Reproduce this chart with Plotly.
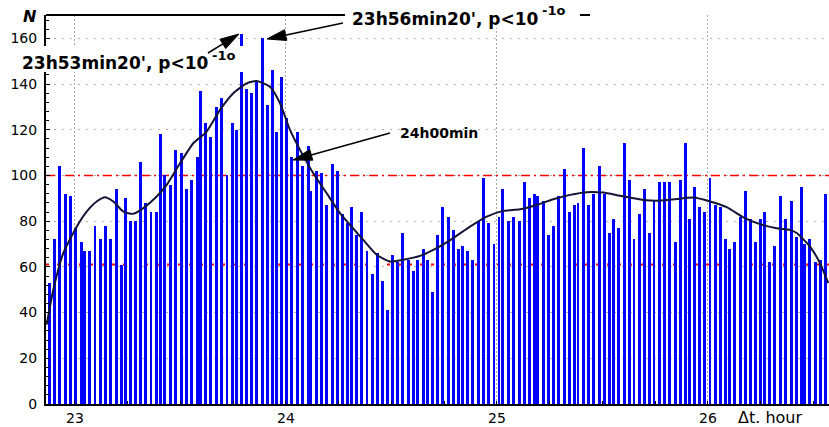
import plotly.graph_objects as go

# Bin centres (hours) and counts per bin
bin_hours = [
    22.8782, 22.9019, 22.9275, 22.9540, 22.9777, 23.0047, 23.0299, 23.0441, 23.0697, 23.0948,
    23.1199, 23.1455, 23.1706, 23.1957, 23.2194, 23.2384, 23.2607, 23.2844, 23.3095, 23.3351,
    23.3602, 23.3853, 23.4043, 23.4265, 23.4536, 23.4763, 23.5038, 23.5294, 23.5545, 23.5796,
    23.5938, 23.6194, 23.6445, 23.6697, 23.6953, 23.7204, 23.7455, 23.7645, 23.7882, 23.8137,
    23.8355, 23.8611, 23.8863, 23.9114, 23.9370, 23.9559, 23.9796, 24.0033, 24.0284, 24.0536,
    24.0791, 24.1043, 24.1171, 24.1436, 24.1692, 24.1943, 24.2194, 24.2450, 24.2701, 24.2938,
    24.3081, 24.3332, 24.3588, 24.3839, 24.4090, 24.4346, 24.4597, 24.4787, 24.5038, 24.5294,
    24.5545, 24.5796, 24.6052, 24.6256, 24.6507, 24.6697, 24.6953, 24.7171, 24.7427, 24.7678,
    24.7929, 24.8185, 24.8374, 24.8592, 24.8848, 24.9100, 24.9351, 24.9607, 24.9858, 25.0095,
    25.0284, 25.0536, 25.0791, 25.1043, 25.1280, 25.1531, 25.1787, 25.1929, 25.2194, 25.2431,
    25.2687, 25.2938, 25.3199, 25.3427, 25.3682, 25.3839, 25.4090, 25.4346, 25.4597, 25.4848,
    25.5104, 25.5355, 25.5531, 25.5782, 25.6033, 25.6289, 25.6493, 25.6744, 25.7000, 25.7251,
    25.7441, 25.7692, 25.7948, 25.8199, 25.8450, 25.8706, 25.8957, 25.9100, 25.9360, 25.9588,
    25.9844, 26.0095, 26.0346, 26.0602, 26.0853, 26.1028, 26.1265, 26.1517, 26.1768, 26.2024,
    26.2242, 26.2498, 26.2668, 26.2924, 26.3175, 26.3427, 26.3682, 26.3934, 26.4185, 26.4441,
    26.4564, 26.4834, 26.5085, 26.5341, 26.5592,
]
counts = [
    53, 72, 104, 92, 91, 77, 71, 67, 67, 78,
    72, 78, 72, 94, 61, 90, 80, 80, 106, 88,
    84, 84, 118, 100, 96, 111, 110, 94, 98, 108,
    137, 123, 117, 130, 134, 100, 123, 120, 162, 138,
    136, 141, 160, 131, 146, 119, 143, 125, 108, 119,
    104, 113, 93, 102, 101, 87, 105, 102, 83, 79,
    86, 74, 84, 67, 57, 66, 54, 41, 65, 62,
    75, 63, 58, 63, 68, 63, 49, 74, 86, 82,
    76, 68, 69, 67, 63, 80, 99, 79, 70, 82,
    94, 80, 82, 80, 97, 90, 92, 91, 89, 74,
    78, 91, 103, 84, 87, 88, 112, 87, 92, 104,
    92, 75, 81, 77, 114, 98, 72, 83, 94, 75,
    89, 97, 97, 97, 71, 98, 114, 81, 95, 86,
    84, 99, 87, 86, 72, 68, 71, 82, 93, 81,
    71, 81, 84, 62, 69, 91, 81, 89, 73, 95,
    70, 72, 62, 63, 92,
]
assert len(bin_hours) == len(counts)

# Smoothed trend
trend_hours = [
    22.8659, 22.8972, 22.9445, 23.0081, 23.0555, 23.1028, 23.1422, 23.1815, 23.2289, 23.2763,
    23.3237, 23.3872, 23.4346, 23.4976, 23.5607, 23.6242, 23.6872, 23.7502, 23.8137, 23.8611,
    23.9242, 23.9716, 24.0190, 24.0664, 24.1294, 24.1929, 24.2559, 24.3664, 24.4299, 24.4929,
    24.5559, 24.6351, 24.7142, 24.7929, 24.8720, 24.9512, 25.0299, 25.1090, 25.1882, 25.2668,
    25.3460, 25.4251, 25.5038, 25.5829, 25.6934, 25.7725, 25.8517, 25.9303, 26.0095, 26.0886,
    26.1673, 26.2464, 26.3256, 26.3886, 26.4204, 26.4834, 26.5308, 26.5701,
]
trend_values = [
    34.7, 50, 66, 77.6, 84.2, 88.6, 90.5, 88.6, 84.2, 83.2,
    85.7, 90.8, 95.9, 105.3, 114.1, 119.2, 128.7, 136, 140.3, 141.3,
    138.8, 131.6, 119.9, 111.2, 101, 92.2, 83.5, 71.8, 65.3, 62.3,
    63.1, 64.8, 68.2, 72.6, 77.6, 82, 84.5, 85.2, 87.1, 89.6,
    91.5, 92.7, 92.5, 91.1, 89.3, 89, 89.7, 90.3, 88.6, 86.1,
    81.7, 78.7, 76.9, 76.2, 74.8, 68.9, 61.6, 52.9,
]

LEVEL_HIGH = 100
LEVEL_LOW = 61
X_RANGE = [22.8626, 26.5735]
Y_RANGE = [0, 170.2]
x_ticks = [23, 24, 25, 26]
y_ticks = [0, 20, 40, 60, 80, 100, 120, 140, 160]

W, H = 829, 427
L, R, T, B = 46, 0, 15, 23
PW, PH = W - L - R, H - T - B


def px(xp):
    return (xp - L) / PW


def py(yp):
    return (H - B - yp) / PH


FONT = "DejaVu Sans"

fig = go.Figure()
fig.add_trace(go.Bar(
    x=bin_hours, y=counts, width=0.0142,
    marker=dict(color="#0000ff", line=dict(width=0)),
    hoverinfo="skip",
))
fig.add_trace(go.Scatter(
    x=trend_hours, y=trend_values, mode="lines",
    line=dict(color="#141438", width=2, shape="spline", smoothing=0.55),
    hoverinfo="skip",
))

shapes = [
    dict(type="line", xref="x", yref="y", x0=X_RANGE[0], x1=X_RANGE[1],
         y0=LEVEL_HIGH, y1=LEVEL_HIGH, layer="between",
         line=dict(color="#ff0000", width=1.5, dash="9px,4px,2px,4px")),
    dict(type="line", xref="x", yref="y", x0=X_RANGE[0], x1=X_RANGE[1],
         y0=LEVEL_LOW, y1=LEVEL_LOW, layer="between",
         line=dict(color="#ff0000", width=2, dash="3px,8px")),
    # top frame edge
    dict(type="line", xref="paper", yref="paper", x0=px(L), x1=px(590),
         y0=py(15), y1=py(15), layer="above", line=dict(color="black", width=2)),
    # white boxes behind the labels
    dict(type="rect", xref="paper", yref="paper", x0=px(18), x1=px(246),
         y0=py(72), y1=py(46), layer="above", fillcolor="white", line=dict(width=0)),
    dict(type="rect", xref="paper", yref="paper", x0=px(345), x1=px(580),
         y0=py(28), y1=py(3), layer="above", fillcolor="white", line=dict(width=0)),
]


def arrow(x0, y0, x1, y1, length=19, half=5.5):
    dx, dy = x1 - x0, y1 - y0
    n = (dx * dx + dy * dy) ** 0.5
    ux, uy = dx / n, dy / n
    bx, by = x1 - length * ux, y1 - length * uy
    nx, ny = -uy, ux
    pts = [(x1, y1), (bx + half * nx, by + half * ny), (bx - half * nx, by - half * ny)]
    path = "M {} {} L {} {} L {} {} Z".format(*[v for p in pts for v in (px(p[0]), py(p[1]))])
    return [
        dict(type="line", xref="paper", yref="paper", x0=px(x0), y0=py(y0),
             x1=px(bx + 3 * ux), y1=py(by + 3 * uy), layer="above",
             line=dict(color="black", width=1.6)),
        dict(type="path", xref="paper", yref="paper", path=path, layer="above",
             fillcolor="black", line=dict(color="black", width=1)),
    ]


shapes += arrow(208, 53, 239, 34)
shapes += arrow(343, 23, 267, 39)
shapes += arrow(390, 133, 293, 160)


def label(text, xp, yp, size, bold=True, italic=False):
    t = text
    if italic:
        t = "<i>" + t + "</i>"
    if bold:
        t = "<b>" + t + "</b>"
    return dict(text=t, xref="paper", yref="paper", x=px(xp), y=py(yp),
                xanchor="left", yanchor="middle", showarrow=False,
                font=dict(family=FONT, size=size, color="black"))


annotations = [
    label("N", 21, 16, 16, italic=True),
    label("23h53min20', p&lt;10", 20, 63, 17),
    label("-1o", 210, 55, 13),
    label("23h56min20', p&lt;10", 350, 19, 17),
    label("-1o", 540, 11, 13),
    label("24h00min", 398, 133, 14),
    label("\u0394t. hour", 736, 417, 16, bold=False),
]

fig.update_layout(
    width=W, height=H,
    margin=dict(l=L, r=R, t=T, b=B),
    paper_bgcolor="white", plot_bgcolor="white",
    showlegend=False, bargap=0,
    shapes=shapes, annotations=annotations,
    xaxis=dict(
        range=X_RANGE, tickmode="array", tickvals=x_ticks,
        showgrid=True, gridcolor="#a8a8a8", gridwidth=1, griddash="2px,2px",
        showline=True, linecolor="black", linewidth=2, zeroline=False,
        ticks="inside", ticklen=3, tickcolor="black",
        minor=dict(tickmode="linear", tick0=23, dtick=0.25, ticks="inside",
                   ticklen=3, tickcolor="black", showgrid=False),
        tickfont=dict(family=FONT, size=14, color="black"),
    ),
    yaxis=dict(
        range=Y_RANGE, tickmode="array", tickvals=y_ticks,
        showgrid=True, gridcolor="#b0b0b0", gridwidth=1, griddash="2px,6px",
        showline=True, linecolor="black", linewidth=2, zeroline=False,
        ticks="inside", ticklen=4, tickcolor="black",
        minor=dict(tickmode="linear", tick0=0, dtick=4, ticks="inside",
                   ticklen=3, tickcolor="black", showgrid=False),
        tickfont=dict(family=FONT, size=14, color="black"),
        ticklabelstandoff=4,
    ),
)

fig.write_html("out.html")
